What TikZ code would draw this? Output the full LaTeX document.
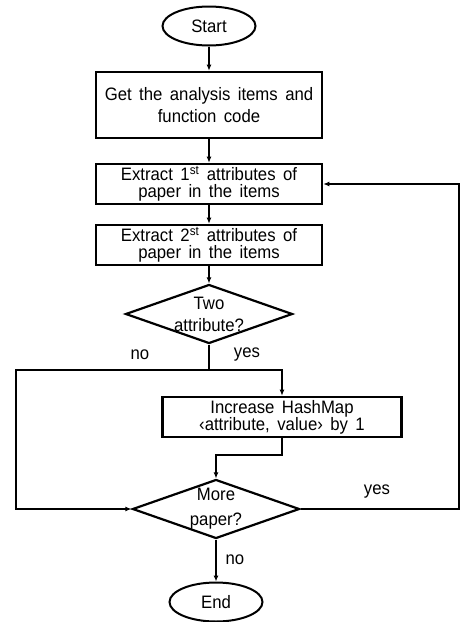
\documentclass[tikz,border=0pt]{standalone}
\usepackage{fontspec}
\setmainfont{Liberation Sans}[FakeStretch=0.93, WordSpace=1.6]
\usetikzlibrary{arrows.meta, positioning, shapes.geometric, calc}

\begin{document}
\begin{tikzpicture}[x=1pt, y=-1pt,
    every node/.style={font=\fontsize{18}{17}\selectfont},
    procbox/.style={draw, line width=2.6pt, minimum width=226pt, minimum height=40pt, inner sep=0pt, align=center},
    termnode/.style={draw, ellipse, line width=2pt, minimum width=93pt, minimum height=39pt, inner sep=0pt},
    decnode/.style={draw, diamond, aspect=2.83, line width=2.2pt, minimum width=167pt, minimum height=59pt, inner xsep=-25pt, inner ysep=-12pt, align=center, font=\fontsize{18}{22}\selectfont},
    flow/.style={line width=1.1pt, -{Latex[length=6pt,width=5pt]}},
    plain/.style={line width=1.1pt}]
    \useasboundingbox (0,0) rectangle (460,622);

    % Blocchi principali
    \node[termnode] (start) at (209,26) {Start};
    \node[procbox, minimum height=66pt, font=\fontsize{18}{22}\selectfont] (get) at (209,105) {Get the analysis items and\\function code};
    \node[procbox] (ex1) at (209,184) {Extract 1\textsuperscript{st} attributes of\\paper in the items};
    \node[procbox] (ex2) at (209,245) {Extract 2\textsuperscript{st} attributes of\\paper in the items};
    \node[decnode] (two) at (209,314) {Two\\attribute?};
    \node[procbox, minimum width=239pt] (inc) at (282,417) {Increase HashMap\\‹attribute, value› by 1};
    \node[decnode, font=\fontsize{18}{25}\selectfont] (more) at (216,509) {More\\paper?};
    \node[termnode] (end) at (216,602) {End};

    % Punti di snodo
    \coordinate (split) at (209,370);
    \coordinate (lft) at (16,370);
    \coordinate (join) at (216,455);
    \coordinate (rgt) at (459,509);

    % Frecce
    \draw[flow] (start) -- (get);
    \draw[flow] (get) -- (ex1);
    \draw[flow] (ex1) -- (ex2);
    \draw[flow] (ex2) -- (two);
    \draw[plain] (two.south) -- (split);
    \draw[flow] (split) -| (inc.north);
    \draw[flow] (split) -- (lft) |- (more.west);
    \draw[flow] (inc.south) |- (join) -- (more.north);
    \draw[flow] (more.east) -- (rgt) |- (ex1.east);
    \draw[flow] (more.south) -- (end);

    % Etichette
    \node (no1) at (140,355) {no};
    \node (yes1) at (247,355) {yes};
    \node (yes2) at (377,492) {yes};
    \node (no2) at (235,560) {no};
\end{tikzpicture}
\end{document}
